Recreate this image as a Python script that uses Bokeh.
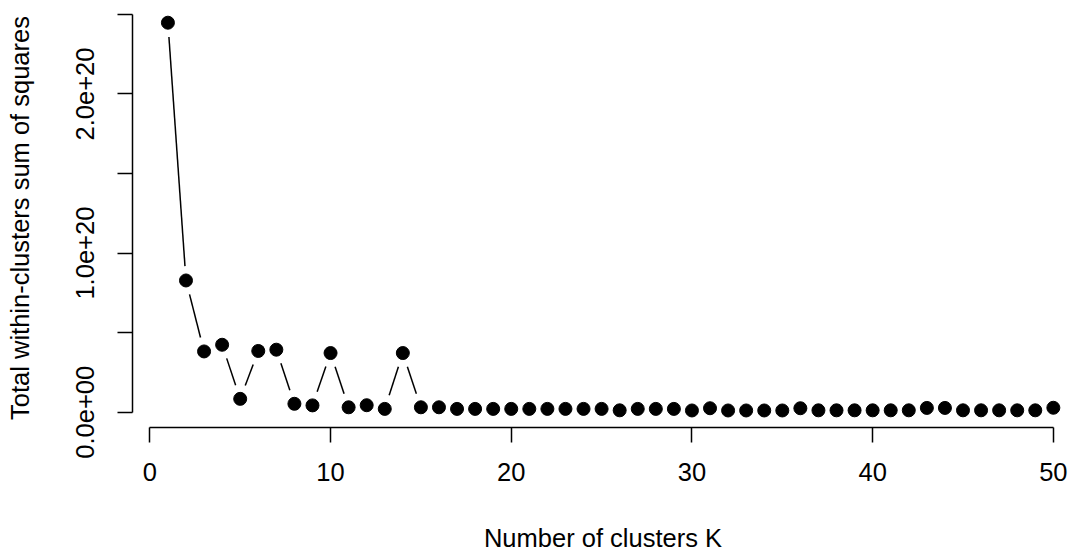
import math
from bokeh.plotting import figure
from bokeh.models import Range1d, FixedTicker
from bokeh.embed import file_html
from bokeh.resources import INLINE

# ---- data ----
k = list(range(1, 51))
wss_e20 = [2.448, 0.828, 0.382, 0.424, 0.084, 0.385, 0.393, 0.053, 0.043, 0.372,
           0.031, 0.044, 0.021, 0.372, 0.031, 0.031, 0.021, 0.021, 0.021, 0.021,
           0.021, 0.021, 0.021, 0.021, 0.021, 0.012, 0.021, 0.021, 0.021, 0.011,
           0.025, 0.011, 0.011, 0.011, 0.011, 0.025, 0.012, 0.012, 0.012, 0.012,
           0.012, 0.012, 0.027, 0.027, 0.012, 0.012, 0.012, 0.012, 0.012, 0.028]
wss = [v * 1e20 for v in wss_e20]
x_ticks = [0, 10, 20, 30, 40, 50]
y_ticks = [0.0, 0.5e20, 1.0e20, 1.5e20, 2.0e20, 2.5e20]
y_tick_labels = ["0.0e+00", "", "1.0e+20", "", "2.0e+20", ""]
x_title = "Number of clusters K"
y_title = "Total within-clusters sum of squares"

# ---- layout ----
W, H = 1073, 554
left_b, top_b, right_b = 132, 8, 0
frame_w = W - left_b - right_b
frame_h = 420
bottom_b = H - top_b - frame_h

px_x = 18.07           # pixels per cluster unit
px_y = 159.5 / 1e20    # pixels per unit of y
x_start = 1 - 0.04 * (max(k) - min(k))
x_end = x_start + frame_w / px_x
y_start = -0.096e20
y_end = y_start + frame_h / px_y

FONT = "Liberation Sans"
FS = "25.5px"

p = figure(width=W, height=H, x_range=Range1d(x_start, x_end),
           y_range=Range1d(y_start, y_end), output_backend="svg",
           toolbar_location=None, min_border_left=left_b, min_border_right=right_b,
           min_border_top=top_b, min_border_bottom=bottom_b)
p.outline_line_color = None
p.xgrid.grid_line_color = None
p.ygrid.grid_line_color = None
p.background_fill_color = "white"
p.border_fill_color = "white"

# type="b": segments with gaps around the points
gap = 14.4
x0s, y0s, x1s, y1s = [], [], [], []
for i in range(len(k) - 1):
    dxd = k[i + 1] - k[i]
    dyd = wss[i + 1] - wss[i]
    d = math.hypot(dxd * px_x, dyd * px_y)
    if d > 2 * gap:
        f = gap / d
        x0s.append(k[i] + dxd * f)
        y0s.append(wss[i] + dyd * f)
        x1s.append(k[i + 1] - dxd * f)
        y1s.append(wss[i + 1] - dyd * f)
p.segment(x0=x0s, y0=y0s, x1=x1s, y1=y1s, line_color="black", line_width=1.5)
p.scatter(k, wss, size=13, color="black")

for ax in (p.xaxis[0], p.yaxis[0]):
    ax.axis_line_width = 1.5
    ax.axis_line_color = "black"
    ax.major_tick_line_width = 1.5
    ax.major_tick_line_color = "black"
    ax.major_tick_in = 0
    ax.major_tick_out = 15
    ax.minor_tick_line_color = None
    ax.major_label_text_font = FONT
    ax.major_label_text_font_size = FS
    ax.major_label_text_color = "black"
    ax.axis_label_text_font = FONT
    ax.axis_label_text_font_size = FS
    ax.axis_label_text_font_style = "normal"
    ax.axis_label_text_color = "black"

xa = p.xaxis[0]
xa.bounds = (min(x_ticks), max(x_ticks))
xa.ticker = FixedTicker(ticks=x_ticks)
xa.major_label_standoff = 20
xa.axis_label = x_title
xa.axis_label_standoff = 40

ya = p.yaxis[0]
ya.bounds = (min(y_ticks), max(y_ticks))
ya.ticker = FixedTicker(ticks=y_ticks)
ya.major_label_overrides = {t: lab for t, lab in zip(y_ticks, y_tick_labels)}
ya.major_label_orientation = "vertical"
ya.major_label_standoff = 23
ya.axis_label = y_title
ya.axis_label_standoff = 40

open("out.html", "w").write(file_html(p, INLINE))
